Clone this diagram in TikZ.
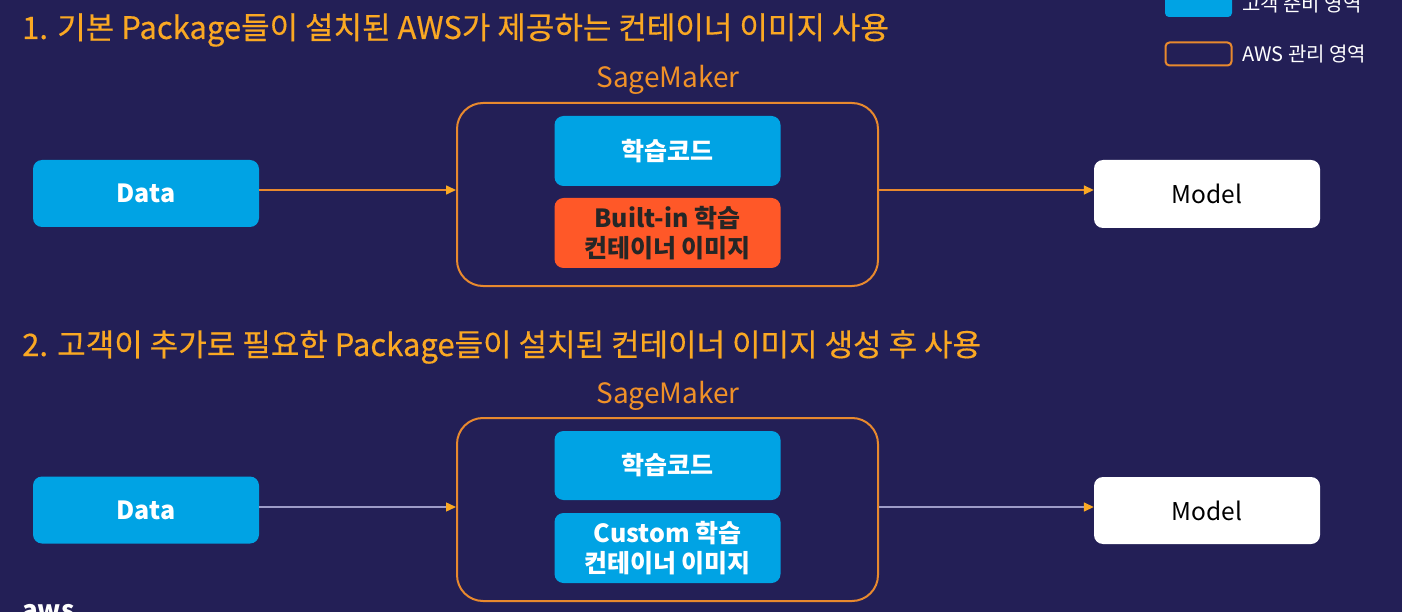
\documentclass[tikz,border=0pt]{standalone}
\usepackage{fontspec}
\setmainfont{Noto Sans CJK KR}
\newfontfamily\medfont[FakeBold=0.4]{Noto Sans CJK KR}
\usetikzlibrary{arrows.meta}
\definecolor{bg}{RGB}{35,31,86}
\definecolor{ttl}{RGB}{250,168,35}
\definecolor{sm}{RGB}{240,145,40}
\definecolor{brd}{RGB}{232,137,46}
\definecolor{blu}{RGB}{0,163,228}
\definecolor{red}{RGB}{255,88,40}
\definecolor{gln}{RGB}{157,155,199}
\tikzset{
  title/.style={anchor=west, text=ttl, font=\medfont\fontsize{31}{34}\selectfont, inner sep=0},
  smlabel/.style={text=sm, font=\fontsize{28}{32}\selectfont, inner sep=0},
  box/.style={rounded corners=9pt, minimum width=226pt, minimum height=67pt, inner sep=0, align=center, font=\bfseries\fontsize{25}{30}\selectfont},
  bluebox/.style={box, fill=blu, text=white},
  redbox/.style={box, fill=red, text=black!85},
  whitebox/.style={box, fill=white, text=black, font=\fontsize{24.5}{28}\selectfont},
  container/.style={draw=brd, line width=2pt, rounded corners=26pt, minimum width=421pt, minimum height=183pt, inner sep=0},
  arr1/.style={draw=brd, line width=1.6pt, -{Triangle[length=10pt,width=9pt,color=ttl]}},
  arr2/.style={draw=gln, line width=1.4pt, -{Triangle[length=10pt,width=9pt,color=ttl]}},
  legtext/.style={anchor=west, text=white, font=\fontsize{20}{24}\selectfont, inner sep=0},
}
\begin{document}
\begin{tikzpicture}[x=1pt,y=-1pt]
\fill[bg] (0,0) rectangle (1402,612);
\useasboundingbox (0,0) rectangle (1402,612);
\begin{scope}
\clip (0,0) rectangle (1402,612);
% legend
\node[fill=blu, rounded corners=4pt, minimum width=67pt, minimum height=30pt, inner sep=0] (legblue) at (1198.5,2) {};
\node[legtext] (legbluet) at (1242,4) {고객 준비 영역};
\node[draw=brd, line width=2pt, rounded corners=4pt, minimum width=66pt, minimum height=23pt, inner sep=0] (legor) at (1198.5,54) {};
\node[legtext] (legort) at (1242,54) {AWS 관리 영역};
\node[anchor=west, text=white, font=\bfseries\fontsize{26}{30}\selectfont, inner sep=0] (aws) at (22,612) {aws};
\end{scope}
% section 1
\node[title] (t1) at (22,30) {1. 기본 Package들이 설치된 AWS가 제공하는 컨테이너 이미지 사용};
\node[smlabel] (sm1) at (668,80) {SageMaker};
\node[container] (c1) at (667.5,194.5) {};
\node[bluebox, minimum height=70pt] (code1) at (667.5,151) {학습코드};
\node[redbox, minimum height=70pt] (img1) at (667.5,233) {Built-in 학습\\컨테이너 이미지};
\node[bluebox] (data1) at (146,193.5) {Data};
\node[whitebox, minimum height=68pt] (model1) at (1207,194) {Model};
\draw[arr1] (data1.east |- 0,190) -- (c1.west |- 0,190);
\draw[arr1] (c1.east |- 0,190) -- (model1.west |- 0,190);
% section 2
\node[title] (t2) at (22,347) {2. 고객이 추가로 필요한 Package들이 설치된 컨테이너 이미지 생성 후 사용};
\node[smlabel] (sm2) at (668,396) {SageMaker};
\node[container] (c2) at (667.5,509.5) {};
\node[bluebox, minimum height=69pt] (code2) at (667.5,465.5) {학습코드};
\node[bluebox, minimum height=70pt] (img2) at (667.5,548) {Custom 학습\\컨테이너 이미지};
\node[bluebox] (data2) at (146,510) {Data};
\node[whitebox] (model2) at (1207,510.5) {Model};
\draw[arr2] (data2.east |- 0,507) -- (c2.west |- 0,507);
\draw[arr2] (c2.east |- 0,507) -- (model2.west |- 0,507);
\end{tikzpicture}
\end{document}
